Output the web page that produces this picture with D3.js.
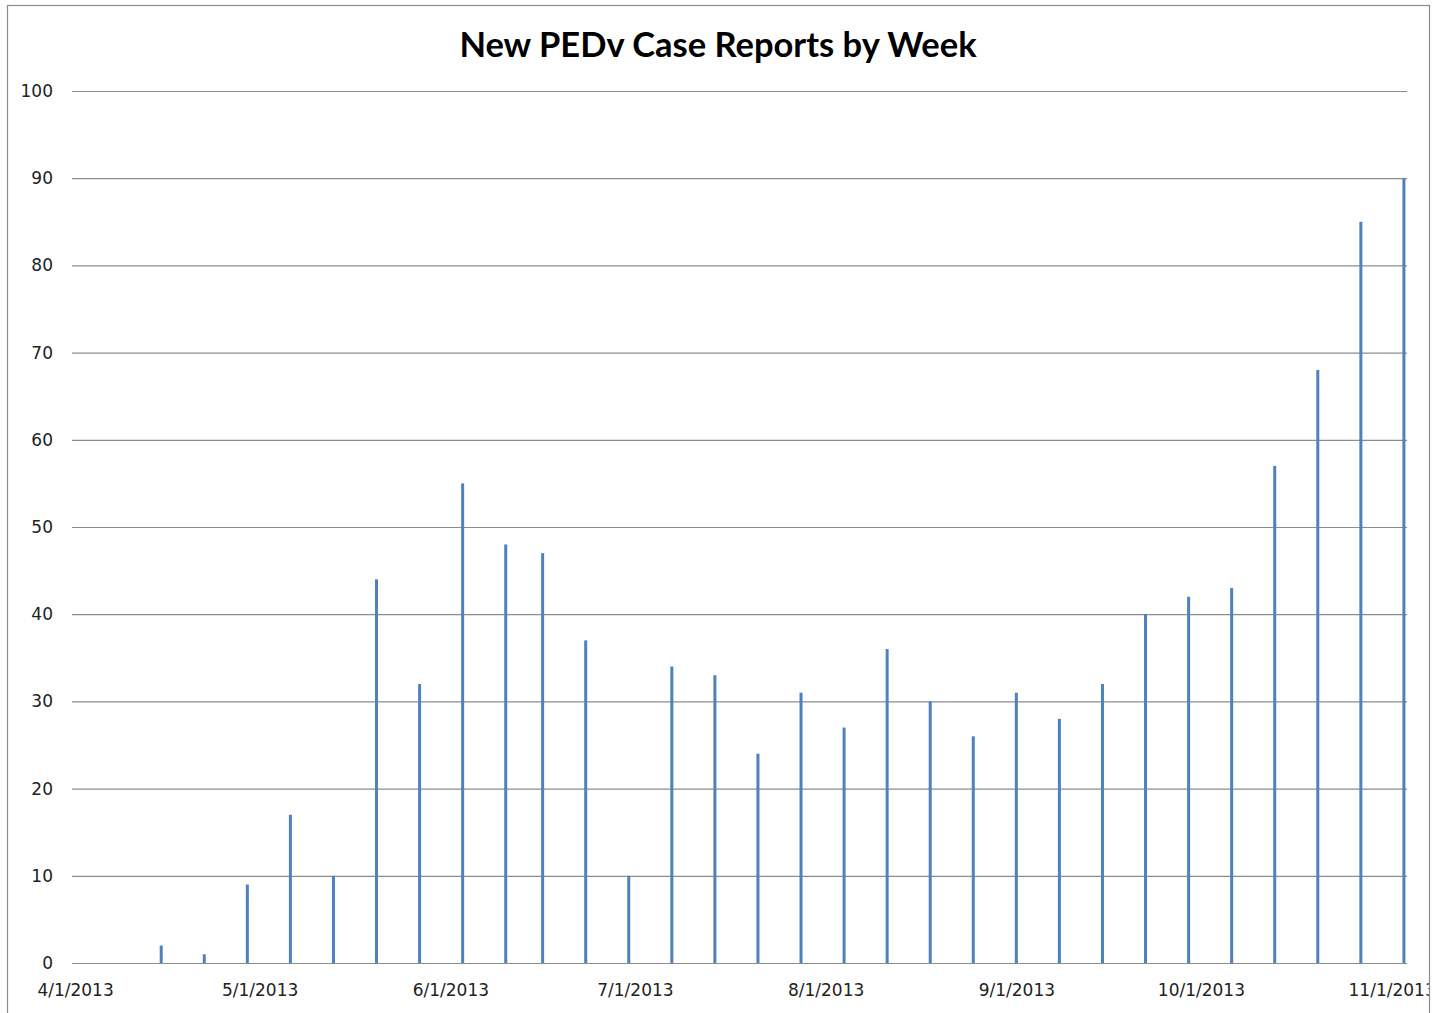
<!DOCTYPE html>
<html>
<head>
<meta charset="utf-8">
<script src="https://cdn.jsdelivr.net/npm/d3@7"></script>
<style>
  html, body { margin: 0; padding: 0; background: #fff; }
  svg { display: block; }
</style>
</head>
<body>
<div id="chart"></div>
<script>
// weekly report dates and new case counts
const weeks = ['2013-04-15', '2013-04-22', '2013-04-29', '2013-05-06', '2013-05-13', '2013-05-20',
  '2013-05-27', '2013-06-03', '2013-06-10', '2013-06-16', '2013-06-23', '2013-06-30', '2013-07-07',
  '2013-07-14', '2013-07-21', '2013-07-28', '2013-08-04', '2013-08-11', '2013-08-18', '2013-08-25',
  '2013-09-01', '2013-09-08', '2013-09-15', '2013-09-22', '2013-09-29', '2013-10-06', '2013-10-13',
  '2013-10-20', '2013-10-27', '2013-11-03'];
const cases = [2, 1, 9, 17, 10, 44, 32, 55, 48, 47, 37, 10, 34, 33, 24, 31, 27, 36, 30, 26,
  31, 28, 32, 40, 42, 43, 57, 68, 85, 90];
const yTicks = [0, 10, 20, 30, 40, 50, 60, 70, 80, 90, 100];
const title = 'New PEDv Case Reports by Week';

const width = 1436, height = 1013;
const plot = { left: 72, right: 1407, top: 91, bottom: 963 };

const parse = d3.utcParse('%Y-%m-%d');
const data = weeks.map((w, i) => ({ date: parse(w), value: cases[i] }));

const svg = d3.select('#chart')
  .append('svg')
  .attr('width', width)
  .attr('height', height)
  .attr('viewBox', [0, 0, width, height]);

svg.append('clipPath').attr('id', 'frame')
  .append('rect').attr('x', 8).attr('y', 5).attr('width', 1422).attr('height', height);

const g = svg.append('g').attr('clip-path', 'url(#frame)');

// axis runs half a day either side of the first / last date
const x = d3.scaleUtc()
  .domain([new Date(Date.UTC(2013, 2, 31, 12)), new Date(Date.UTC(2013, 10, 3, 12))])
  .range([plot.left, plot.right]);

const y = d3.scaleLinear()
  .domain([0, 100])
  .range([plot.bottom, plot.top]);

// gridlines + y labels
const yAxis = g.append('g')
  .attr('transform', `translate(${plot.left},0)`)
  .call(d3.axisLeft(y).tickValues(yTicks).tickSize(-(plot.right - plot.left)).tickPadding(19));
yAxis.select('.domain').remove();
yAxis.selectAll('.tick line').attr('stroke', '#8c8c8c').attr('stroke-width', 1.2);
yAxis.selectAll('.tick text')
  .attr('font-family', 'DejaVu Sans, Verdana, sans-serif')
  .attr('font-size', 17)
  .attr('fill', '#222');

// x labels, one per month
const xAxis = g.append('g')
  .attr('transform', `translate(0,${plot.bottom})`)
  .call(d3.axisBottom(x)
    .ticks(d3.utcMonth.every(1))
    .tickFormat(d3.utcFormat('%-m/%-d/%Y'))
    .tickSize(0)
    .tickPadding(21));
xAxis.select('.domain').remove();
xAxis.selectAll('.tick text')
  .attr('font-family', 'DejaVu Sans, Verdana, sans-serif')
  .attr('font-size', 17)
  .attr('fill', '#222');

// bars
const barW = 3;
g.append('g')
  .attr('fill', '#4f81bd')
  .selectAll('rect')
  .data(data)
  .join('rect')
  .attr('x', d => x(d.date) - barW / 2)
  .attr('y', d => y(d.value))
  .attr('width', barW)
  .attr('height', d => y(0) - y(d.value));

// title
svg.append('text')
  .attr('x', 718)
  .attr('y', 57)
  .attr('text-anchor', 'middle')
  .attr('font-family', 'Lato, Open Sans, sans-serif')
  .attr('font-weight', 'bold')
  .attr('font-size', 34.5)
  .attr('fill', '#000')
  .text(title);

// chart frame
svg.append('rect')
  .attr('x', 7.5).attr('y', 5.5)
  .attr('width', 1422).attr('height', height)
  .attr('fill', 'none')
  .attr('stroke', '#8c8c8c')
  .attr('stroke-width', 1.2);
</script>
</body>
</html>
